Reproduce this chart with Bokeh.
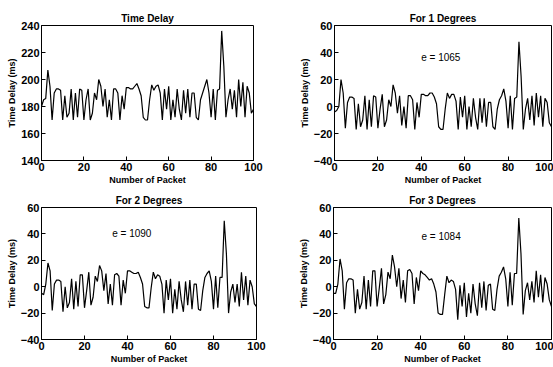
from bokeh.plotting import figure
from bokeh.layouts import column, row
from bokeh.models import Range1d, Label, FixedTicker
from bokeh.embed import file_html
from bokeh.resources import INLINE

packets = list(range(101))

time_delay = [180,185,186,207,195,170,190,193,193,192,
              170,188,172,175,193,170,190,172,193,192,
              170,185,193,170,175,190,185,200,195,180,
              193,172,185,170,193,193,190,170,188,178,
              194,194,193,193,195,197,193,188,172,170,
              170,185,196,192,195,196,190,170,193,178,
              195,170,185,172,193,178,170,192,175,193,
              172,190,190,172,170,185,190,195,200,190,
              172,193,170,192,193,236,210,172,185,193,
              178,192,172,200,180,198,172,195,190,175,178]

deg1 = [-4,-3,0,20,10,-16,3,7,7,6,
        -17,2,-15,-10,8,-17,5,-15,8,7,
        -16,-2,9,-15,-10,5,0,16,10,-5,
        8,-14,0,-16,8,8,5,-17,3,-8,
        9,9,8,8,10,10,7,2,-15,-17,
        -17,-2,10,6,9,9,4,-17,7,-8,
        8,-17,0,-15,6,-8,-17,6,-12,6,
        -15,3,3,-15,-17,-2,5,8,13,4,
        -16,8,-17,6,7,48,22,-17,-2,6,
        -10,8,-14,10,-8,8,-15,6,3,-12,-15]

deg2 = [-5,-6,2,18,12,-18,2,5,5,4,
        -19,0,-16,-12,6,-17,4,-15,9,9,
        -16,-3,11,-14,-8,8,4,16,12,-3,
        10,-13,2,-14,9,10,8,-14,5,-5,
        12,12,11,10,10,11,7,2,-15,-16,
        -16,-1,11,6,9,8,2,-20,5,-10,
        6,-20,-2,-17,4,-10,-19,4,-14,5,
        -17,2,2,-17,-18,-3,7,10,12,4,
        -17,8,-16,7,7,50,25,-20,-4,2,
        -12,2,-15,11,-10,8,-14,5,0,-13,-15]

deg3 = [-5,-5,2,21,12,-17,3,6,6,5,
        -20,-2,-17,-12,8,-17,5,-15,12,12,
        -15,-1,14,-13,-6,11,6,24,15,0,
        14,-9,5,-12,12,13,10,-13,7,-3,
        12,10,9,7,5,6,2,-4,-20,-21,
        -21,-6,8,3,5,4,-2,-25,1,-15,
        3,-23,-5,-20,2,-13,-22,3,-16,4,
        -18,1,2,-17,-18,-2,8,11,15,6,
        -15,11,-14,10,10,52,25,-21,-3,3,
        -10,4,-12,12,-8,9,-12,7,2,-10,-15]

titles = ["Time Delay", "For 1 Degrees", "For 2 Degrees", "For 3 Degrees"]
errors = [None, "e = 1065", "e = 1090", "e =  1084"]
x_ticks = [0, 20, 40, 60, 80, 100]
y_ticks_delay = [140, 160, 180, 200, 220, 240]
y_ticks_deg = [-40, -20, 0, 20, 40, 60]

FONT = "Liberation Sans"


def make(title, ys, yr, yticks, w, h, bl, br, bt, bb, err=None, epos=(45, 38)):
    p = figure(width=w, height=h, output_backend="svg", toolbar_location=None,
               x_range=Range1d(0, 100), y_range=Range1d(*yr),
               min_border_left=bl, min_border_right=br,
               min_border_top=bt, min_border_bottom=bb)
    p.title.text = title
    p.title.align = "center"
    p.title.text_font = FONT
    p.title.text_font_style = "bold"
    p.title.text_font_size = "10px"
    p.title.text_color = "black"
    p.title.offset = 0
    p.title.standoff = 4
    p.line(packets, ys, line_color="black", line_width=1.2)
    p.xgrid.visible = False
    p.ygrid.visible = False
    p.outline_line_color = "black"
    p.outline_line_width = 1
    p.xaxis.ticker = FixedTicker(ticks=x_ticks)
    p.yaxis.ticker = FixedTicker(ticks=yticks)
    p.xaxis.axis_label = "Number of Packet"
    p.yaxis.axis_label = "Time Delay (ms)"
    for ax in (p.xaxis[0], p.yaxis[0]):
        ax.axis_line_color = "black"
        ax.major_tick_in = 4
        ax.major_tick_out = 0
        ax.minor_tick_line_color = None
        ax.major_label_text_font = FONT
        ax.major_label_text_font_style = "bold"
        ax.major_label_text_font_size = "11px"
        ax.major_label_text_color = "black"
        ax.axis_label_text_font = FONT
        ax.axis_label_text_font_style = "bold"
        ax.axis_label_text_font_size = "9px"
        ax.axis_label_text_color = "black"
        ax.major_label_standoff = 2
        ax.axis_label_standoff = 1
    p.background_fill_color = "white"
    p.border_fill_color = "white"
    if err:
        p.add_layout(Label(x=epos[0], y=epos[1], text=err, text_font=FONT,
                           text_font_size="10px", text_color="black",
                           text_align="center", text_baseline="middle"))
    return p


f1 = make(titles[0], time_delay, (140, 240), y_ticks_delay, 290, 188, 41, 37, 24, 28)
f2 = make(titles[1], deg1, (-40, 60), y_ticks_deg, 263, 188, 44, 2, 25, 28, errors[1], (49, 36))
f3 = make(titles[2], deg2, (-40, 60), y_ticks_deg, 290, 178, 41, 34, 16, 25, errors[2], (42, 40))
f4 = make(titles[3], deg3, (-40, 60), y_ticks_deg, 263, 178, 43, 2, 19, 24, errors[3], (50, 38))

layout = column(row(f1, f2), row(f3, f4))

open("out.html", "w").write(file_html(layout, INLINE))
